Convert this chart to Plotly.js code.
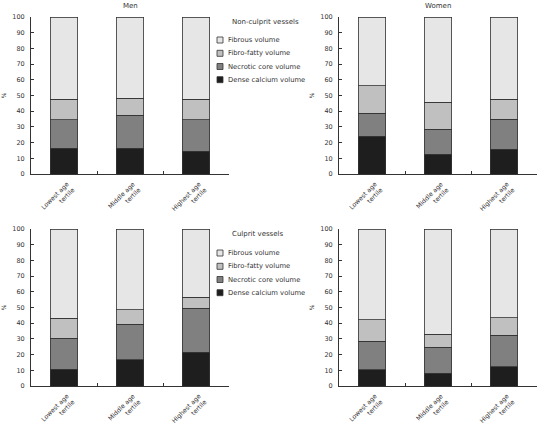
<!DOCTYPE html>
<html>
<head>
<meta charset="utf-8">
<script src="https://cdn.plot.ly/plotly-3.0.1.min.js"></script>
<style>html,body{margin:0;padding:0;background:#fff;}#chart{width:542px;height:423px;}</style>
</head>
<body>
<div id="chart"></div>
<script>
// ---- Data ----
const categories = ["Lowest age<br>tertile", "Middle age<br>tertile", "Highest age<br>tertile"];
const seriesNames = ["Dense calcium volume", "Necrotic core volume", "Fibro-fatty volume", "Fibrous volume"];
const panelTitles = ["Men", "Women"];
const legendTitles = ["Non-culprit vessels", "Culprit vessels"];

// Non-culprit vessels, men
const denseMenNC   = [16.5, 16.5, 14.6];
const necroticMenNC = [18.2, 20.8, 20.1];
const fibroFattyMenNC = [12.8, 10.8, 12.8];
const fibrousMenNC = [52.5, 51.9, 52.5];
// Non-culprit vessels, women
const denseWomenNC   = [24.2, 12.7, 15.9];
const necroticWomenNC = [14.6, 15.7, 19.1];
const fibroFattyWomenNC = [17.3, 17.2, 12.5];
const fibrousWomenNC = [43.9, 54.4, 52.5];
// Culprit vessels, men
const denseMenC   = [10.8, 16.7, 21.6];
const necroticMenC = [19.7, 22.7, 27.8];
const fibroFattyMenC = [12.7, 9.3, 7.0];
const fibrousMenC = [56.8, 51.3, 43.6];
// Culprit vessels, women
const denseWomenC   = [10.2, 8.1, 12.3];
const necroticWomenC = [18.4, 16.7, 20.1];
const fibroFattyWomenC = [13.6, 8.3, 11.2];
const fibrousWomenC = [57.8, 66.9, 56.4];

// ---- Styling ----
const colors = ["#1e1e1e", "#808080", "#c0c0c0", "#e6e6e6"];
const FONT = "DejaVu Sans";
const TXT = "#333333";
const W = 542, H = 423;
const px = x => x / W;
const py = y => 1 - y / H;

const panels = [
  {ax: "", data: [denseMenNC, necroticMenNC, fibroFattyMenNC, fibrousMenNC]},
  {ax: "2", data: [denseWomenNC, necroticWomenNC, fibroFattyWomenNC, fibrousWomenNC]},
  {ax: "3", data: [denseMenC, necroticMenC, fibroFattyMenC, fibrousMenC]},
  {ax: "4", data: [denseWomenC, necroticWomenC, fibroFattyWomenC, fibrousWomenC]}
];

const traces = [];
panels.forEach(p => {
  p.data.forEach((vals, i) => {
    traces.push({
      type: "bar",
      x: categories,
      y: vals,
      name: seriesNames[i],
      xaxis: "x" + p.ax,
      yaxis: "y" + p.ax,
      showlegend: false,
      marker: {color: colors[i], line: {color: "#333333", width: 0.8}},
      hoverinfo: "name+y"
    });
  });
});

const xDomL = [px(31), px(229)], xDomR = [px(339), px(537)];
const yDomT = [py(174), py(17)], yDomB = [py(386), py(229)];

function xax(domain, anchor) {
  return {
    domain: domain, anchor: anchor, type: "category",
    range: [-0.5, 2.5], tickson: "boundaries",
    ticks: "inside", ticklen: 3, tickcolor: "#333", tickwidth: 1,
    showline: true, linecolor: "#333", linewidth: 1,
    showgrid: false, zeroline: false,
    tickangle: -45, tickfont: {family: FONT, size: 6.3, color: TXT},
    ticklabelstandoff: 3, ticklabelshift: 3,
    fixedrange: true
  };
}
function yax(domain, anchor) {
  return {
    domain: domain, anchor: anchor,
    range: [0, 100], dtick: 10,
    ticks: "inside", ticklen: 3, tickcolor: "#333", tickwidth: 1,
    showline: true, linecolor: "#333", linewidth: 1,
    showgrid: false, zeroline: false,
    tickfont: {family: FONT, size: 6.5, color: TXT},
    ticklabelstandoff: 4,
    title: {text: "%", font: {family: FONT, size: 6, color: TXT}, standoff: 5},
    fixedrange: true
  };
}

const annotations = [];
const shapes = [];
// panel titles
annotations.push({text: panelTitles[0], x: px(130), y: py(6), xref: "paper", yref: "paper",
  showarrow: false, font: {family: FONT, size: 7, color: TXT}, xanchor: "center", yanchor: "middle"});
annotations.push({text: panelTitles[1], x: px(438), y: py(6), xref: "paper", yref: "paper",
  showarrow: false, font: {family: FONT, size: 7, color: TXT}, xanchor: "center", yanchor: "middle"});

// manual legends (top and bottom), order: Fibrous, Fibro-fatty, Necrotic, Dense
const legendBlocks = [
  {titleY: 22, itemY: [40, 53.3, 66.5, 79.7]},
  {titleY: 234, itemY: [253, 266.3, 279.5, 292.7]}
];
legendBlocks.forEach((lb, b) => {
  annotations.push({text: legendTitles[b], x: px(230), y: py(lb.titleY), xref: "paper", yref: "paper",
    showarrow: false, font: {family: FONT, size: 7, color: TXT}, xanchor: "left", yanchor: "middle"});
  for (let k = 0; k < 4; k++) {
    const si = 3 - k;
    const cy = lb.itemY[k];
    shapes.push({type: "rect", xref: "paper", yref: "paper",
      x0: px(217), x1: px(223), y0: py(cy + 3), y1: py(cy - 3),
      fillcolor: colors[si], line: {color: "#333", width: 0.8}});
    annotations.push({text: seriesNames[si], x: px(226), y: py(cy), xref: "paper", yref: "paper",
      showarrow: false, font: {family: FONT, size: 6.8, color: TXT}, xanchor: "left", yanchor: "middle"});
  }
});

const layout = {
  width: W, height: H,
  margin: {l: 0, r: 0, t: 0, b: 0},
  paper_bgcolor: "#fff", plot_bgcolor: "#fff",
  barmode: "stack", bargap: 0.59,
  showlegend: false,
  font: {family: FONT, size: 7, color: TXT},
  xaxis: xax(xDomL, "y"), yaxis: yax(yDomT, "x"),
  xaxis2: xax(xDomR, "y2"), yaxis2: yax(yDomT, "x2"),
  xaxis3: xax(xDomL, "y3"), yaxis3: yax(yDomB, "x3"),
  xaxis4: xax(xDomR, "y4"), yaxis4: yax(yDomB, "x4"),
  annotations: annotations,
  shapes: shapes
};

Plotly.newPlot("chart", traces, layout, {staticPlot: true, displayModeBar: false});
</script>
</body>
</html>
